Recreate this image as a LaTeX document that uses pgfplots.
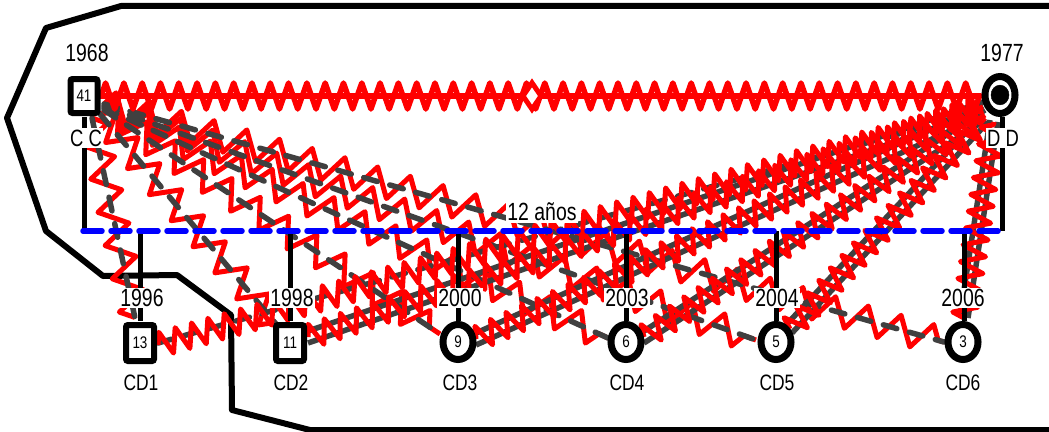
\documentclass[border=0pt]{standalone}
\usepackage{fontspec}
\setmainfont{Liberation Sans}
\usepackage{graphicx}
\usepackage{pgfplots}
\pgfplotsset{compat=1.18}
\usetikzlibrary{decorations.pathmorphing,shapes.geometric}
\definecolor{relgray}{HTML}{404040}

\pgfplotsset{
  zzF/.style={red, line width=5bp, line join=round, decorate, decoration={zigzag, segment length=34bp, amplitude=14bp}},
  zzM/.style={red, line width=5bp, line join=round, decorate, decoration={zigzag, segment length=17bp, amplitude=12bp}},
  dashF/.style={relgray, line width=5.5bp, line cap=round, dash pattern=on 14bp off 13bp},
  solM/.style={relgray, line width=5.5bp},
  blk/.style={black, line width=5bp},
  lbl/.style={only marks, mark=none, point meta=explicit symbolic,
    nodes near coords={\scalebox{1}[1.28]{\pgfplotspointmeta}},
    every node near coord/.append style={anchor=center, inner sep=1.5bp, text=black,
      font=\fontsize{#1}{#1}\selectfont}},
  rectsym/.style={only marks, mark=none, point meta=explicit symbolic,
    nodes near coords={\scalebox{1}[1.25]{\pgfplotspointmeta}},
    every node near coord/.append style={anchor=center, draw=black, line width=6bp,
      fill=white, rounded corners=2bp, minimum width=28bp, minimum height=36bp,
      inner sep=0pt, text=black, font=\fontsize{13.5}{14}\selectfont}},
  circsym/.style={only marks, mark=none, point meta=explicit symbolic,
    nodes near coords={\scalebox{1}[1.25]{\pgfplotspointmeta}},
    every node near coord/.append style={anchor=center, ellipse, draw=black, line width=7bp,
      fill=white, minimum width=30bp, minimum height=35bp,
      inner sep=0pt, text=black, font=\fontsize{13.5}{14}\selectfont}},
}

\begin{document}
\begin{tikzpicture}
\begin{axis}[
    width=1049bp, height=431bp, scale only axis,
    xmin=0, xmax=1049, ymin=0, ymax=431, y dir=reverse,
    hide axis, clip=false,
  ]
  % outer boundary
  \addplot[black, line width=6bp, line join=round] coordinates {
    (1055,6) (121,6) (46,28) (7,118) (46,231) (103,276) (177,275)
    (231,315) (232,410) (310,430) (1055,430)};

  % father -> children
  \addplot[zzF] coordinates {(92,118) (135,318)};
  \addplot[zzF] coordinates {(100,114) (276,324)};
  \addplot[zzF] coordinates {(104,110) (440,334)};
  \addplot[zzF] coordinates {(104,108) (608,338)};
  \addplot[zzF] coordinates {(104,106) (756,340)};
  \addplot[zzF] coordinates {(104,104) (944,342)};
  \addplot[dashF] coordinates {(92,118) (135,318)};
  \addplot[dashF] coordinates {(100,114) (276,324)};
  \addplot[dashF] coordinates {(104,110) (440,334)};
  \addplot[dashF] coordinates {(104,108) (608,338)};
  \addplot[dashF] coordinates {(104,106) (756,340)};
  \addplot[dashF] coordinates {(104,104) (944,342)};

  % children -> mother
  \addplot[dashF] coordinates {(158,343) (983,110)};
  \addplot[solM] coordinates {(308,343) (983,112)};
  \addplot[solM] coordinates {(308,331) (983,102)};
  \addplot[solM] coordinates {(476,345) (983,116)};
  \addplot[solM] coordinates {(476,333) (983,106)};
  \addplot[solM] coordinates {(644,343) (985,120)};
  \addplot[solM] coordinates {(644,331) (985,110)};
  \addplot[solM] coordinates {(792,333) (988,122)};
  \addplot[solM] coordinates {(786,325) (982,115)};
  \addplot[solM] coordinates {(968,318) (998,122)};
  \addplot[solM] coordinates {(960,316) (990,120)};
  \addplot[zzM] coordinates {(158,345) (983,110)};
  \addplot[zzM] coordinates {(308,337) (983,107)};
  \addplot[zzM] coordinates {(476,339) (983,111)};
  \addplot[zzM] coordinates {(644,337) (985,115)};
  \addplot[zzM] coordinates {(790,329) (985,118)};
  \addplot[zzM] coordinates {(964,318) (994,122)};

  % couple
  \addplot[dashF] coordinates {(101,96) (981,96)};
  \addplot[red, line width=6bp] coordinates {(101,96) (981,96)};
  \addplot[red, line width=5.5bp, line join=round, line cap=round, decorate,
    decoration={zigzag, segment length=18.3bp, amplitude=13bp}] coordinates {(101,96) (981,96)};
  \addplot[only marks, mark=diamond*, mark size=12bp,
    mark options={fill=white, draw=red, line width=5bp, yscale=1.1}] coordinates {(532,96)};
  \addplot[relgray, line width=5bp, line cap=round] coordinates {(533,96) (540,96)};

  % family lines
  \addplot[blk] coordinates {(84,117) (84,231)};
  \addplot[blk] coordinates {(1002,117) (1002,231)};
  \addplot[blk] coordinates {(140,231) (140,321)};
  \addplot[blk] coordinates {(290,231) (290,321)};
  \addplot[blk] coordinates {(458,231) (458,321)};
  \addplot[blk] coordinates {(626,231) (626,321)};
  \addplot[blk] coordinates {(776,231) (776,321)};
  \addplot[blk] coordinates {(964,231) (964,321)};
  \addplot[blue, line width=5.5bp, line cap=round, dash pattern=on 19bp off 9bp]
    coordinates {(83,231) (1003,231)};

  % labels
  \addplot[lbl=19.5] coordinates {(87,53) [1968] (1002,53) [1977]};
  \addplot[lbl=18.5, every node near coord/.append style={fill=white}]
    coordinates {(86,138) [C C] (1003,138) [D D]};
  \addplot[lbl=19.5, every node near coord/.append style={fill=white}]
    coordinates {(542,212) [12 años]
      (142,298) [1996] (292,298) [1998] (460,298) [2000]
      (627,298) [2003] (777,298) [2004] (963,298) [2006]};
  \addplot[lbl=17.5] coordinates {(141,383) [CD1] (291,383) [CD2] (460,383) [CD3]
      (627,383) [CD4] (777,383) [CD5] (963,383) [CD6]};

  % persons
  \addplot[rectsym, every node near coord/.append style={minimum width=27bp, minimum height=34bp}]
    coordinates {(84,96) [41]};
  \addplot[rectsym] coordinates {(140,343) [13] (290,343) [11]};
  \addplot[circsym] coordinates {(458,342) [9] (626,342) [6] (776,342) [5] (963,342) [3]};
  \addplot[only marks, mark=none, point meta=explicit symbolic, nodes near coords={},
    every node near coord/.append style={anchor=center, ellipse, draw=black, line width=7bp,
      fill=white, minimum width=30bp, minimum height=37bp, inner sep=0pt}]
    coordinates {(1000,95) [x]};
  \addplot[only marks, mark=*, mark size=9bp, mark options={black, yscale=1.1}]
    coordinates {(1000,95)};
\end{axis}
\pgfresetboundingbox
\useasboundingbox (current axis.south west) rectangle (current axis.north east);
\end{tikzpicture}
\end{document}
